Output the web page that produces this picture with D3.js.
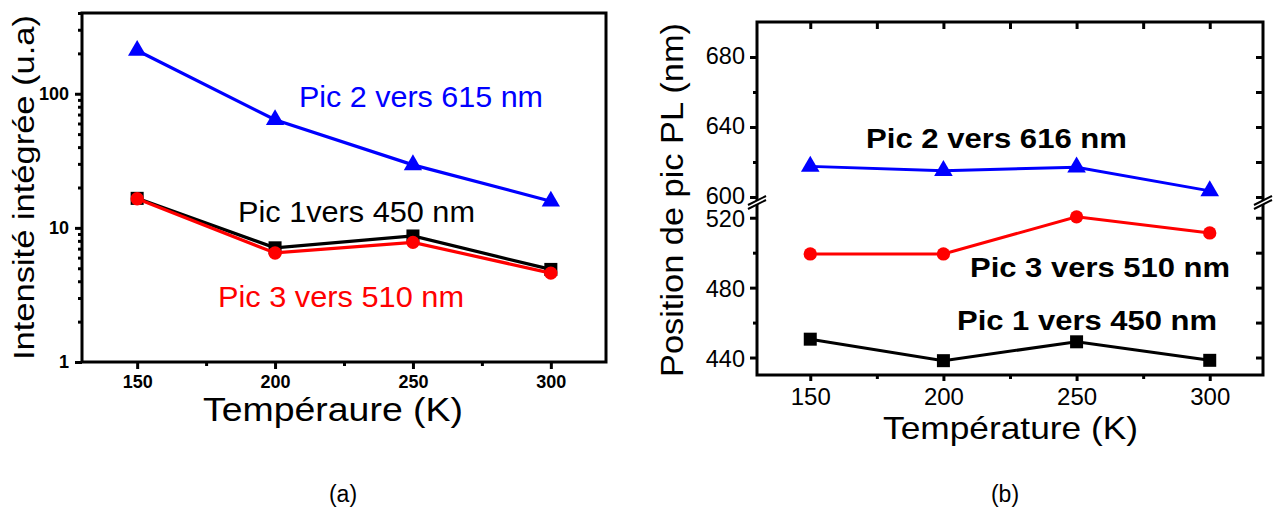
<!DOCTYPE html>
<html><head><meta charset="utf-8">
<script src="https://cdn.jsdelivr.net/npm/d3@7"></script>
<style>
body{margin:0;background:#fff;}
svg{display:block;}
text{font-family:"Liberation Sans",Arial,sans-serif;}
</style></head>
<body><svg id="c" width="1274" height="512"></svg>
<script>
// ---- data ----
const temps = [150, 200, 250, 300];
// panel (a): integrated intensity (u.a), log scale
const intPic1 = [16.6, 7.1, 8.7, 4.9];
const intPic2 = [210, 64, 29.5, 15.8];
const intPic3 = [16.5, 6.5, 7.8, 4.6];
// panel (b): PL peak position (nm)
const posPic1 = [450.5, 438.2, 449, 438.4];
const posPic2 = [617.5, 615, 617, 603.5];
const posPic3 = [499.3, 499.3, 520.5, 511.3];
const xTicks = [150, 200, 250, 300];
const xMinor = [175, 225, 275];
const yTicksA = [1, 10, 100];
const yTicksBUpper = [600, 640, 680];
const yTicksBLower = [440, 480, 520];
const labelsA = ["Pic 1vers 450 nm", "Pic 2 vers 615 nm", "Pic 3 vers 510 nm"];
const labelsB = ["Pic 1 vers 450 nm", "Pic 2 vers 616 nm", "Pic 3 vers 510 nm"];

const svg = d3.select("#c");
const BLUE = "#0000ff", RED = "#ff0000", BLACK = "#000";

function styleAxis(g, w, fs, bold) {
  g.select(".domain").remove();
  g.selectAll(".tick line").attr("stroke", "#000").attr("stroke-width", w);
  g.selectAll(".tick text").attr("fill", "#000").attr("font-size", fs)
    .attr("font-weight", bold ? "bold" : "normal")
    .attr("font-family", "Liberation Sans, Arial, sans-serif");
}
function sym(type, size) { return d3.symbol().type(type).size(size)(); }
function txt(g, str, x, y, fs, len, opts = {}) {
  const t = g.append("text").attr("x", x).attr("y", y).attr("font-size", fs)
    .attr("fill", opts.fill || "#000").attr("font-weight", opts.bold ? "bold" : "normal")
    .attr("textLength", len).attr("lengthAdjust", "spacingAndGlyphs").text(str);
  if (opts.transform) t.attr("transform", opts.transform);
  return t;
}

// ================= Panel (a) =================
{
  const x = d3.scaleLinear([130, 320], [82, 606]);
  const y = d3.scaleLog([1, 400], [362, 13]);
  const g = svg.append("g");

  const xa = g.append("g").attr("transform", "translate(0,362)")
    .call(d3.axisBottom(x).tickValues(xTicks).tickSize(7).tickPadding(6).tickFormat(d3.format("d")));
  styleAxis(xa, 3, 18, true);
  const xm = g.append("g").attr("transform", "translate(0,362)")
    .call(d3.axisBottom(x).tickValues(xMinor).tickSize(4).tickFormat(""));
  styleAxis(xm, 3, 0, false);

  const ya = g.append("g").attr("transform", "translate(82,0)")
    .call(d3.axisLeft(y).tickValues(yTicksA).tickSize(7).tickPadding(6).tickFormat(d3.format("d")));
  styleAxis(ya, 3, 18, true);
  const minorVals = [];
  [1, 10, 100].forEach(d => { for (let k = 2; k <= 9; k++) { const v = d * k; if (v <= 400) minorVals.push(v); } });
  const ym = g.append("g").attr("transform", "translate(82,0)")
    .call(d3.axisLeft(y).tickValues(minorVals).tickSize(4).tickFormat(""));
  styleAxis(ym, 3, 0, false);

  g.append("rect").attr("x", 82).attr("y", 13).attr("width", 524).attr("height", 349)
    .attr("fill", "none").attr("stroke", "#000").attr("stroke-width", 3);

  const line = d3.line().x((d, i) => x(temps[i])).y(d => y(d));
  const series = [
    {v: intPic1, c: BLACK, s: d3.symbolSquare, size: 170},
    {v: intPic3, c: RED, s: d3.symbolCircle, size: 140},
    {v: intPic2, c: BLUE, s: d3.symbolTriangle, size: 145}
  ];
  series.forEach(sr => {
    g.append("path").attr("d", line(sr.v)).attr("fill", "none").attr("stroke", sr.c).attr("stroke-width", 3.2);
    g.selectAll(null).data(sr.v).enter().append("path")
      .attr("d", sym(sr.s, sr.size))
      .attr("transform", (d, i) => `translate(${x(temps[i])},${y(d)})`)
      .attr("fill", sr.c);
  });

  txt(g, labelsA[1], 299, 107, 30, 244, {fill: BLUE});
  txt(g, labelsA[0], 238, 222, 30, 237, {fill: BLACK});
  txt(g, labelsA[2], 218, 307, 30, 246, {fill: RED});

  txt(g, "Intensité intégrée (u.a)", 0, 0, 30, 345, {transform: "translate(34,360) rotate(-90)"});
  txt(g, "Tempéraure (K)", 203, 421, 33, 260);
  g.append("text").attr("x", 343).attr("y", 502).attr("text-anchor", "middle")
    .attr("font-size", 23).attr("font-family", "Liberation Serif, Times New Roman, serif").text("(a)");
}

// ================= Panel (b) =================
{
  const L = 757, R = 1263, T = 22, B = 375;
  const x = d3.scaleLinear([130, 320], [L, R]);
  const yU = d3.scaleLinear([600, 700], [197, T]);
  const yL = d3.scaleLinear([430, 525], [B, 209]);
  const g = svg.append("g");

  const xb = g.append("g").attr("transform", `translate(0,${B})`)
    .call(d3.axisBottom(x).tickValues(xTicks).tickSize(6).tickPadding(7).tickFormat(d3.format("d")));
  styleAxis(xb, 3, 24, false);
  const xbm = g.append("g").attr("transform", `translate(0,${B})`)
    .call(d3.axisBottom(x).tickValues(xMinor).tickSize(4).tickFormat(""));
  styleAxis(xbm, 3, 0, false);
  const xt = g.append("g").attr("transform", `translate(0,${T})`)
    .call(d3.axisBottom(x).tickValues(xTicks.concat(xMinor)).tickSize(7).tickFormat(""));
  styleAxis(xt, 3, 0, false);

  [[yU, yTicksBUpper, [620, 660], -1.5], [yL, yTicksBLower, [460, 500], 1.5]].forEach(([sc, maj, min, shift]) => {
    const a = g.append("g").attr("transform", `translate(${L},0)`)
      .call(d3.axisLeft(sc).tickValues(maj).tickSize(7).tickPadding(5).tickFormat(d3.format("d")));
    styleAxis(a, 3, 23.5, false);
    a.selectAll(".tick text").attr("y", shift);
    const m = g.append("g").attr("transform", `translate(${L},0)`)
      .call(d3.axisLeft(sc).tickValues(min).tickSize(4).tickFormat(""));
    styleAxis(m, 3, 0, false);
    const r = g.append("g").attr("transform", `translate(${R},0)`)
      .call(d3.axisRight(sc).tickValues(maj.concat(min)).tickSize(-7).tickFormat(""));
    styleAxis(r, 3, 0, false);
  });

  g.append("rect").attr("x", L).attr("y", T).attr("width", R - L).attr("height", B - T)
    .attr("fill", "none").attr("stroke", "#000").attr("stroke-width", 3);

  [L, R].forEach(xx => {
    g.append("path").attr("d", `M${xx - 9},${205} L${xx + 9},${196} L${xx + 9},${200} L${xx - 9},${209} Z`)
      .attr("fill", "#fff").attr("stroke", "none");
    g.append("path").attr("d", `M${xx - 9},${205} L${xx + 9},${196} M${xx - 9},${209} L${xx + 9},${200}`)
      .attr("stroke", "#000").attr("stroke-width", 2).attr("fill", "none");
  });

  const series = [
    {v: posPic1, sc: yL, c: BLACK, s: d3.symbolSquare, size: 169},
    {v: posPic3, sc: yL, c: RED, s: d3.symbolCircle, size: 140},
    {v: posPic2, sc: yU, c: BLUE, s: d3.symbolTriangle, size: 150}
  ];
  series.forEach(sr => {
    const line = d3.line().x((d, i) => x(temps[i])).y(d => sr.sc(d));
    g.append("path").attr("d", line(sr.v)).attr("fill", "none").attr("stroke", sr.c).attr("stroke-width", 3);
    g.selectAll(null).data(sr.v).enter().append("path")
      .attr("d", sym(sr.s, sr.size))
      .attr("transform", (d, i) => `translate(${x(temps[i])},${sr.sc(d)})`)
      .attr("fill", sr.c);
  });

  txt(g, labelsB[1], 866, 148, 28, 261, {bold: true});
  txt(g, labelsB[2], 970, 277, 28, 260, {bold: true});
  txt(g, labelsB[0], 957, 330, 28, 260, {bold: true});

  txt(g, "Position de pic PL (nm)", 0, 0, 32, 354, {transform: "translate(683,377) rotate(-90)"});
  txt(g, "Température (K)", 883, 439, 32, 255);
  g.append("text").attr("x", 1005).attr("y", 502).attr("text-anchor", "middle")
    .attr("font-size", 23).attr("font-family", "Liberation Serif, Times New Roman, serif").text("(b)");
}
</script></body></html>
